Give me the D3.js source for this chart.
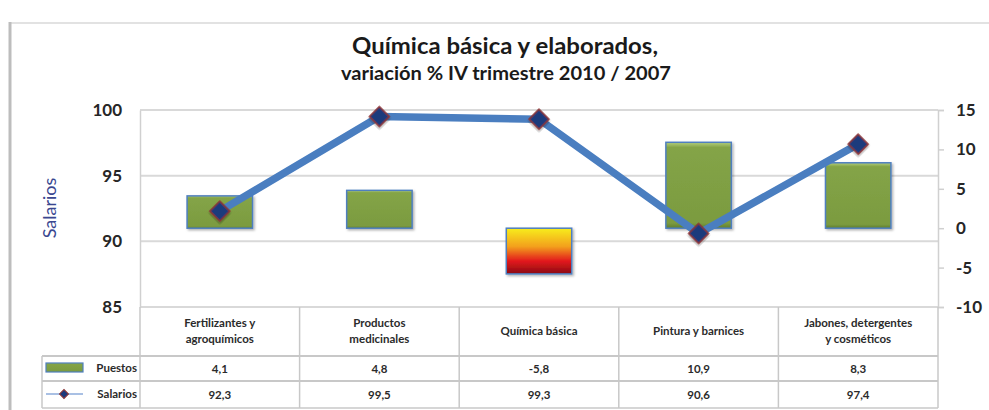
<!DOCTYPE html>
<html>
<head>
<meta charset="utf-8">
<script src="https://cdn.jsdelivr.net/npm/d3@7"></script>
<style>
  body { margin: 0; background: #fff; }
  svg text { font-family: Lato, "Open Sans", sans-serif; }
</style>
</head>
<body>
<div id="chart"></div>
<script>
// datos del grafico
const categorias = [
    ["Fertilizantes y", "agroquímicos"],
    ["Productos", "medicinales"],
    ["Química básica"],
    ["Pintura y barnices"],
    ["Jabones, detergentes", "y cosméticos"]
];
const puestos = [4.1, 4.8, -5.8, 10.9, 8.3];
const salarios = [92.3, 99.5, 99.3, 90.6, 97.4];
const ticksIzq = [85, 90, 95, 100];
const ticksDer = [-10, -5, 0, 5, 10, 15];
const fmt = v => String(v).replace('.', ',');

const width = 989, height = 410;
const svg = d3.select('#chart').append('svg')
    .attr('width', width)
    .attr('height', height);

const defs = svg.append('defs');
const gVerde = defs.append('linearGradient').attr('id', 'verde')
    .attr('x1', 0).attr('y1', 0).attr('x2', 0).attr('y2', 1);
gVerde.append('stop').attr('offset', '0%').attr('stop-color', '#b5cf7c');
gVerde.append('stop').attr('offset', '6%').attr('stop-color', '#84a447');
gVerde.append('stop').attr('offset', '94%').attr('stop-color', '#7b9b40');
gVerde.append('stop').attr('offset', '100%').attr('stop-color', '#5f7d2e');

const gRojo = defs.append('linearGradient').attr('id', 'rojo')
    .attr('x1', 0).attr('y1', 0).attr('x2', 0).attr('y2', 1);
gRojo.append('stop').attr('offset', '0%').attr('stop-color', '#f7ee1c');
gRojo.append('stop').attr('offset', '40%').attr('stop-color', '#f3a01d');
gRojo.append('stop').attr('offset', '72%').attr('stop-color', '#e2181c');
gRojo.append('stop').attr('offset', '100%').attr('stop-color', '#8a0c12');

const sombra = defs.append('filter').attr('id', 'sombra')
    .attr('x', '-20%').attr('y', '-20%').attr('width', '140%').attr('height', '140%');
sombra.append('feDropShadow').attr('dx', 1.5).attr('dy', 1.5)
    .attr('stdDeviation', 1.2).attr('flood-color', '#000').attr('flood-opacity', 0.3);

// marco
svg.append('line').attr('x1', 9).attr('x2', width).attr('y1', 23).attr('y2', 23)
    .attr('stroke', '#e2e2e2').attr('stroke-width', 2);
svg.append('line').attr('x1', 10).attr('x2', 10).attr('y1', 22).attr('y2', height)
    .attr('stroke', '#bdbdbd').attr('stroke-width', 3);

// titulo
svg.append('text').attr('x', 505).attr('y', 54)
    .attr('text-anchor', 'middle').attr('font-size', 23).attr('font-weight', 'bold')
    .attr('fill', '#1a1a1a').attr('textLength', 306).attr('lengthAdjust', 'spacingAndGlyphs')
    .text('Química básica y elaborados,');
svg.append('text').attr('x', 506).attr('y', 80)
    .attr('text-anchor', 'middle').attr('font-size', 18).attr('font-weight', 'bold')
    .attr('fill', '#1a1a1a').attr('textLength', 330).attr('lengthAdjust', 'spacingAndGlyphs')
    .text('variación % IV trimestre 2010 / 2007');

// escalas
const x = d3.scaleBand().domain(d3.range(categorias.length)).range([140, 938]);
const yIzq = d3.scaleLinear().domain([85, 100]).range([307, 110]);
const yDer = d3.scaleLinear().domain([-10, 15]).range([307, 110]);

// lineas de cuadricula
svg.append('g').selectAll('line').data(ticksIzq).enter().append('line')
    .attr('x1', 140).attr('x2', 938)
    .attr('y1', d => yIzq(d)).attr('y2', d => yIzq(d))
    .attr('stroke', '#d9d9d9').attr('stroke-width', 2);

// eje izquierdo
const ejeIzq = svg.append('g').attr('transform', 'translate(140,0)')
    .call(d3.axisLeft(yIzq).tickValues(ticksIzq).tickSize(0).tickPadding(18));
ejeIzq.select('.domain').attr('stroke', '#d0d0d0').attr('stroke-width', 1.5);
ejeIzq.selectAll('text').attr('font-size', 17).attr('font-weight', 'bold')
    .attr('fill', '#262626').attr('font-family', 'Lato, sans-serif');

svg.append('text')
    .attr('transform', 'translate(56,208) rotate(-90)')
    .attr('text-anchor', 'middle').attr('font-size', 18)
    .attr('fill', '#3a4790').text('Salarios');

// eje derecho
const ejeDer = svg.append('g').attr('transform', 'translate(938,0)')
    .call(d3.axisRight(yDer).tickValues(ticksDer).tickFormat(d => String(d))
        .tickSize(6).tickPadding(12));
ejeDer.select('.domain').attr('stroke', '#d0d0d0').attr('stroke-width', 1.5);
ejeDer.selectAll('.tick line').attr('stroke', '#d0d0d0').attr('stroke-width', 1.5);
ejeDer.selectAll('text').attr('font-size', 17).attr('font-weight', 'bold')
    .attr('fill', '#262626').attr('font-family', 'Lato, sans-serif');

// barras de puestos
const anchoBarra = x.bandwidth() * 0.41;
svg.append('g').selectAll('rect').data(puestos).enter().append('rect')
    .attr('x', (d, i) => x(i) + (x.bandwidth() - anchoBarra) / 2)
    .attr('y', d => yDer(Math.max(0, d)))
    .attr('width', anchoBarra)
    .attr('height', d => Math.abs(yDer(d) - yDer(0)))
    .attr('fill', d => d < 0 ? 'url(#rojo)' : 'url(#verde)')
    .attr('stroke', '#4f7fbf').attr('stroke-width', 1.5)
    .attr('filter', 'url(#sombra)');

// linea de salarios
const linea = d3.line()
    .x((d, i) => x(i) + x.bandwidth() / 2)
    .y(d => yIzq(d));
svg.append('path').datum(salarios)
    .attr('d', linea)
    .attr('fill', 'none').attr('stroke', '#4a7ec0')
    .attr('stroke-width', 7.5).attr('stroke-linejoin', 'round');

const diamante = d3.symbol().type(d3.symbolSquare).size(200);
svg.append('g').selectAll('path').data(salarios).enter().append('path')
    .attr('d', diamante)
    .attr('transform', (d, i) => `translate(${x(i) + x.bandwidth() / 2},${yIzq(d)}) rotate(45)`)
    .attr('fill', '#1c3a7c').attr('stroke', '#8e3535').attr('stroke-width', 1.5)
    .attr('filter', 'url(#sombra)');

// tabla de datos
const tabla = svg.append('g');
const colorBorde = '#c8c8c8';
const filas = [307, 356, 381, 408];
// lineas horizontales
tabla.append('line').attr('x1', 42).attr('x2', 938).attr('y1', filas[1]).attr('y2', filas[1])
    .attr('stroke', colorBorde).attr('stroke-width', 2);
tabla.append('line').attr('x1', 42).attr('x2', 938).attr('y1', filas[2]).attr('y2', filas[2])
    .attr('stroke', colorBorde).attr('stroke-width', 2);
tabla.append('line').attr('x1', 42).attr('x2', 938).attr('y1', filas[3]).attr('y2', filas[3])
    .attr('stroke', colorBorde).attr('stroke-width', 1.5);
// lineas verticales
tabla.append('line').attr('x1', 42).attr('x2', 42).attr('y1', filas[1]).attr('y2', filas[3])
    .attr('stroke', colorBorde).attr('stroke-width', 1.5);
tabla.selectAll('.div').data(d3.range(categorias.length + 1)).enter().append('line')
    .attr('x1', i => i < categorias.length ? x(i) : 938)
    .attr('x2', i => i < categorias.length ? x(i) : 938)
    .attr('y1', filas[0]).attr('y2', filas[3])
    .attr('stroke', colorBorde).attr('stroke-width', 1.5);

// nombres de categorias
categorias.forEach((lineas, i) => {
    const cx = x(i) + x.bandwidth() / 2;
    const y0 = lineas.length === 1 ? 335 : 327;
    const t = tabla.append('text').attr('x', cx).attr('y', y0)
        .attr('text-anchor', 'middle').attr('font-size', 11.5).attr('font-weight', 'bold')
        .attr('fill', '#2b2b2b');
    lineas.forEach((l, j) => {
        t.append('tspan').attr('x', cx).attr('dy', j === 0 ? 0 : 16).text(l);
    });
});

// valores
tabla.selectAll('.vp').data(puestos).enter().append('text')
    .attr('x', (d, i) => x(i) + x.bandwidth() / 2).attr('y', 373)
    .attr('text-anchor', 'middle').attr('font-size', 11.5).attr('font-weight', 'bold')
    .attr('fill', '#2b2b2b').text(d => fmt(d));
tabla.selectAll('.vs').data(salarios).enter().append('text')
    .attr('x', (d, i) => x(i) + x.bandwidth() / 2).attr('y', 399)
    .attr('text-anchor', 'middle').attr('font-size', 11.5).attr('font-weight', 'bold')
    .attr('fill', '#2b2b2b').text(d => fmt(d));

// leyenda en la tabla
tabla.append('rect').attr('x', 46).attr('y', 363).attr('width', 37).attr('height', 9)
    .attr('fill', 'url(#verde)').attr('stroke', '#4f7fbf').attr('stroke-width', 1.2);
tabla.append('text').attr('x', 137).attr('y', 372).attr('text-anchor', 'end')
    .attr('font-size', 11.5).attr('font-weight', 'bold').attr('fill', '#2b2b2b').text('Puestos');
tabla.append('line').attr('x1', 46).attr('x2', 83).attr('y1', 394).attr('y2', 394)
    .attr('stroke', '#a9c0e4').attr('stroke-width', 2);
tabla.append('path').attr('d', d3.symbol().type(d3.symbolSquare).size(40))
    .attr('transform', 'translate(64,394) rotate(45)')
    .attr('fill', '#1c3a7c').attr('stroke', '#8e3535').attr('stroke-width', 1);
tabla.append('text').attr('x', 137).attr('y', 398).attr('text-anchor', 'end')
    .attr('font-size', 11.5).attr('font-weight', 'bold').attr('fill', '#2b2b2b').text('Salarios');
</script>
</body>
</html>
